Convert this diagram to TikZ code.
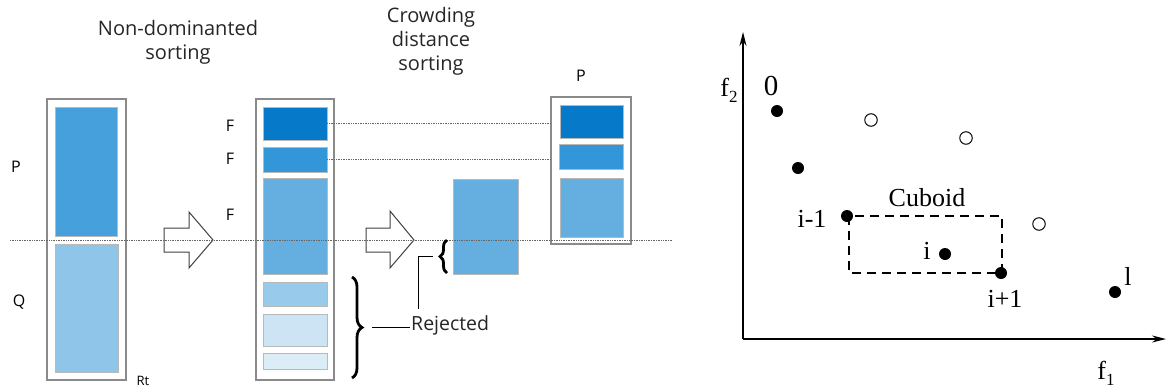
\documentclass[tikz,border=0pt]{standalone}
\usepackage{fontspec}
\setmainfont{Liberation Serif}
\newfontfamily\osans{Open Sans}
\usetikzlibrary{decorations.pathreplacing,arrows.meta}
\definecolor{cP}{HTML}{45A0DC}
\definecolor{cQ}{HTML}{8FC5E9}
\definecolor{cFa}{HTML}{0679C8}
\definecolor{cFb}{HTML}{3396D8}
\definecolor{cFc}{HTML}{64AEE0}
\definecolor{cFd}{HTML}{98CBEB}
\definecolor{cFe}{HTML}{CDE4F4}
\definecolor{cFf}{HTML}{DDEDF8}
\definecolor{boxgray}{HTML}{8A8A8A}
\tikzset{
  outerbox/.style={draw=boxgray, line width=1.4pt, inner sep=0pt, fill=white},
  blk/.style={draw=gray!55, line width=0.7pt, inner sep=0pt},
  dotline/.style={densely dotted, line width=0.7pt, draw=gray!80!black},
  hollowarrow/.style={draw=black!75, line width=1pt, fill=white},
  sanslbl/.style={font=\osans\fontsize{16}{18}\selectfont, text=black},
  titlelbl/.style={font=\osans\fontsize{20}{24}\selectfont, align=center, text=black!85},
  bracestyle/.style={decorate, decoration={brace, amplitude=7pt}, line width=2.8pt},
  plotlbl/.style={font=\fontsize{26}{28}\selectfont, inner sep=0pt},
  fdot/.style={circle, fill=black, minimum size=12pt, inner sep=0pt},
  odot/.style={circle, draw=black, line width=1pt, fill=white, minimum size=12.5pt, inner sep=0pt},
  axis/.style={line width=1.4pt, -{Stealth[length=14pt,width=7pt]}},
}
\begin{document}
\begin{tikzpicture}[x=1pt,y=-1pt]
\useasboundingbox (0,0) rectangle (1167,389);

% titles
\node[titlelbl] (t1) at (178,42) {Non-dominanted\\sorting};
\node[titlelbl] (t2) at (431,41) {Crowding\\distance\\sorting};

% left column R_t
\node[outerbox, minimum width=79pt, minimum height=281pt] (R) at (86.5,239.5) {};
\node[blk, fill=cP, minimum width=62pt, minimum height=129pt] (Pr) at (86,171.5) {};
\node[blk, fill=cQ, minimum width=63pt, minimum height=128pt] (Qr) at (86.5,308) {};
\node[sanslbl] (Pl) at (16,167) {P};
\node[sanslbl] (Ql) at (19,302) {Q};
\node[sanslbl, font=\osans\fontsize{13}{15}\selectfont, inner sep=1pt] (Rt) at (143,381) {Rt};

% middle column (fronts)
\node[outerbox, minimum width=78pt, minimum height=281pt] (S) at (295,239.5) {};
\node[blk, fill=cFa, minimum width=64pt, minimum height=33pt] (F1) at (295,123.5) {};
\node[blk, fill=cFb, minimum width=64pt, minimum height=25pt] (F2) at (295,159.5) {};
\node[blk, fill=cFc, minimum width=64pt, minimum height=96pt] (F3) at (295,226) {};
\node[blk, fill=cFd, minimum width=64pt, minimum height=24pt] (F4) at (295,294) {};
\node[blk, fill=cFe, minimum width=64pt, minimum height=32pt] (F5) at (295,330) {};
\node[blk, fill=cFf, minimum width=64pt, minimum height=16pt] (F6) at (295,361) {};
\node[sanslbl] (F1l) at (230,126) {F};
\node[sanslbl] (F2l) at (230,159) {F};
\node[sanslbl] (F3l) at (230,215) {F};

% crowding-sorted front
\node[blk, fill=cFc, minimum width=65pt, minimum height=95pt] (M) at (485.5,226.5) {};

% new population P
\node[outerbox, minimum width=80pt, minimum height=147pt] (NP) at (591,170.5) {};
\node[blk, fill=cFa, minimum width=63pt, minimum height=33pt] (Pa) at (591.5,121.5) {};
\node[blk, fill=cFb, minimum width=64pt, minimum height=25pt] (Pb) at (591,156.5) {};
\node[blk, fill=cFc, minimum width=63pt, minimum height=59pt] (Pc) at (591.5,207.5) {};
\node[sanslbl] (NPl) at (581,76) {P};

% connecting dotted lines
\draw[dotline] (F1.east) -- (NP.west |- F1.east);
\draw[dotline] (F2.east) -- (NP.west |- F2.east);

% hollow arrows
\draw[hollowarrow] (164,228) -- (189,228) -- (189,212) -- (213,240) -- (189,268) -- (189,252) -- (164,252) -- cycle;
\draw[hollowarrow] (366,228) -- (390,228) -- (390,211) -- (414,240) -- (390,268) -- (390,252) -- (366,252) -- cycle;

% horizontal cut line
\coordinate (cutL) at (10,240);
\coordinate (cutR) at (672,240);
\draw[dotline] (cutL) -- (cutR);

% braces and rejected
\coordinate (bsA) at (447,273);
\coordinate (bsB) at (447,240);
\draw[bracestyle, decoration={amplitude=7pt}] (bsA) -- (bsB);
\coordinate (bbA) at (352,277);
\coordinate (bbB) at (352,378);
\draw[bracestyle, decoration={amplitude=10pt}] (bbA) -- (bbB);
\node[sanslbl, font=\osans\fontsize{19.5}{22}\selectfont, text=black!85, anchor=west, inner sep=1pt] (Rej) at (410,325) {Rejected};
\coordinate (bbTip) at (372,327);
\draw[line width=0.9pt] (bbTip) -- (Rej.west |- bbTip);
\coordinate (bsTip) at (433,256);
\coordinate (bsCorner) at (418,256);
\coordinate (bsEnd) at (418,309);
\draw[line width=0.9pt] (bsTip) -- (bsCorner) -- (bsEnd);

% ---------- crowding distance plot ----------
\coordinate (O) at (743,339);
\coordinate (Ytop) at (743,32);
\coordinate (Xend) at (1166,339);
\draw[axis] (O) -- (Ytop);
\draw[axis] (O) -- (Xend);
\node[plotlbl] (f2) at (729,90) {f\raisebox{-6pt}{\fontsize{17}{17}\selectfont 2}};
\node[plotlbl] (f1) at (1106,373) {f\raisebox{-6pt}{\fontsize{17}{17}\selectfont 1}};

\node[fdot] (p0) at (777,111) {};
\node[fdot] (p1) at (798,168) {};
\node[fdot] (pim) at (847,216) {};
\node[fdot] (pi) at (945,254) {};
\node[fdot] (pip) at (1001,273) {};
\node[fdot] (pl) at (1115,292) {};
\node[odot] (q1) at (871,120) {};
\node[odot] (q2) at (966,138) {};
\node[odot] (q3) at (1039,224) {};

\node[plotlbl, font=\fontsize{29}{30}\selectfont] (l0) at (771,86) {0};
\node[plotlbl] (lim) at (812,219) {i-1};
\node[plotlbl] (li) at (927,251) {i};
\node[plotlbl] (lip) at (1005,299) {i+1};
\node[plotlbl] (ll) at (1128,276) {l};
\node[plotlbl] (cub) at (927,198) {Cuboid};

\coordinate (cubA) at (849,216);
\coordinate (cubB) at (1002,273);
\draw[line width=1.1pt, dash pattern=on 9pt off 6pt] (cubA) rectangle (cubB);
\end{tikzpicture}
\end{document}
